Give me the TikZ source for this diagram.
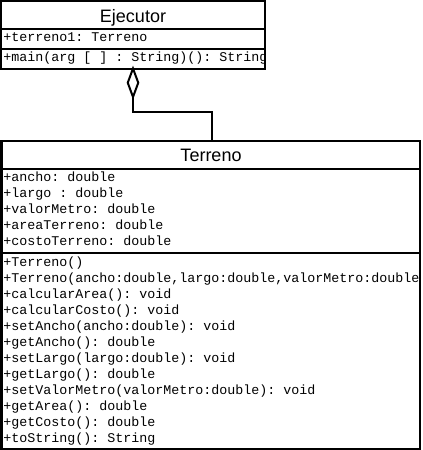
\documentclass[tikz,border=0pt]{standalone}
\usepackage{fontspec}
\setmainfont{Liberation Sans}
\setmonofont{Liberation Mono}
\usetikzlibrary{shapes.geometric}
\begin{document}
\begin{tikzpicture}[x=0.75pt,y=-0.75pt,
  box/.style={draw, line width=1.5pt, inner sep=0pt, outer sep=0pt},
  title/.style={font=\fontsize{13.5}{16}\selectfont, anchor=base, inner sep=0pt},
  member/.style={font=\ttfamily\fontsize{10}{12}\selectfont, anchor=base west, inner sep=0pt},
  sep/.style={line width=1.5pt},
  link/.style={line width=1.5pt},
  agg/.style={shape=diamond, draw, fill=white, line width=1.5pt, inner sep=0pt, outer sep=0pt,
    minimum width=7.875pt, minimum height=21.375pt}]
\fill[white] (0,0) rectangle (422,450);
\useasboundingbox (0,0) rectangle (422,450);
% ---- Ejecutor texts
\begin{scope}
\clip (1,1) rectangle (265,68.5);
\node[member] (ea1) at (3,41.7) {+terreno1: Terreno};
\node[member] (em1) at (3,61.7) {+main(arg [ ] : String)(): String};
\end{scope}
\node[title] (ejt) at (133,22) {Ejecutor};
% ---- Terreno texts
\begin{scope}
\clip (1.5,141) rectangle (420,449);
\node[member] (ta1) at (3,181.7) {+ancho: double};
\node[member] (ta2) at (3,197.7) {+largo : double};
\node[member] (ta3) at (3,213.7) {+valorMetro: double};
\node[member] (ta4) at (3,229.7) {+areaTerreno: double};
\node[member] (ta5) at (3,245.7) {+costoTerreno: double};
\node[member] (tm1) at (3,266.5) {+Terreno()};
\node[member] (tm2) at (3,282.5) {+Terreno(ancho:double,largo:double,valorMetro:double};
\node[member] (tm3) at (3,298.5) {+calcularArea(): void};
\node[member] (tm4) at (3,314.5) {+calcularCosto(): void};
\node[member] (tm5) at (3,330.5) {+setAncho(ancho:double): void};
\node[member] (tm6) at (3,346.5) {+getAncho(): double};
\node[member] (tm7) at (3,362.5) {+setLargo(largo:double): void};
\node[member] (tm8) at (3,378.5) {+getLargo(): double};
\node[member] (tm9) at (3,394.5) {+setValorMetro(valorMetro:double): void};
\node[member] (tm10) at (3,410.5) {+getArea(): double};
\node[member] (tm11) at (3,426.5) {+getCosto(): double};
\node[member] (tm12) at (3,442.5) {+toString(): String};
\end{scope}
\node[title] (tert) at (211,161) {Terreno};
% ---- boxes
\node[box, minimum width=198pt, minimum height=50.625pt] (ej) at (133,34.75) {};
\draw[sep] (ej.west |- 0,28.5) -- (ej.east |- 0,28.5);
\draw[sep] (ej.west |- 0,48.5) -- (ej.east |- 0,48.5);
\node[box, minimum width=313.875pt, minimum height=231pt] (ter) at (210.75,295) {};
\draw[sep] (ter.west |- 0,168.5) -- (ter.east |- 0,168.5);
\draw[sep] (ter.west |- 0,252.5) -- (ter.east |- 0,252.5);
% ---- aggregation
\node[agg, anchor=north] (dia) at (ej.south -| 133,0) {};
\coordinate (bend) at (212,112);
\draw[link] (dia.south) |- (bend) -- (bend |- ter.north);
\end{tikzpicture}
\end{document}
